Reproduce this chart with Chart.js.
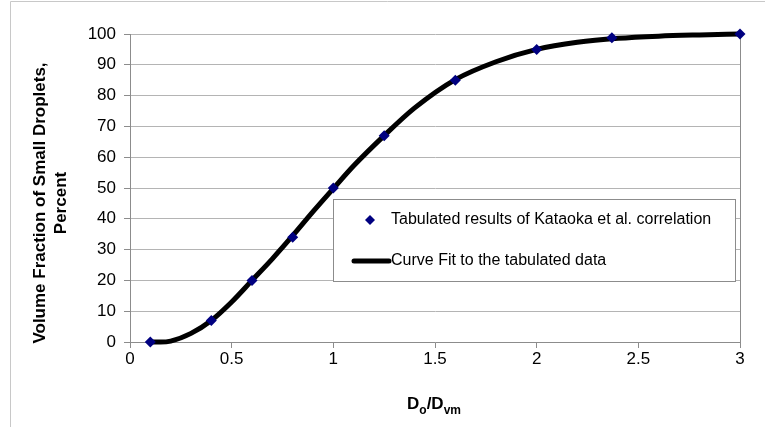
<!DOCTYPE html>
<html>
<head>
<meta charset="utf-8">
<script src="https://cdn.jsdelivr.net/npm/chart.js@4.4.0/dist/chart.umd.min.js"></script>
<style>
    html, body { margin: 0; padding: 0; background: #fff; }
    #wrap { position: relative; width: 765px; height: 427px; }
</style>
</head>
<body>
<div id="wrap"><canvas id="chart" width="765" height="427"></canvas></div>
<script>
// Tabulated points (Kataoka et al.)
const tabX = [0.1, 0.4, 0.6, 0.8, 1.0, 1.25, 1.6, 2.0, 2.37, 3.0];
const tabY = [0, 7, 20, 34, 50, 67, 85, 95, 98.8, 100];

// Curve fit
const fitX = [0.1, 0.15, 0.2, 0.3, 0.4, 0.5, 0.6, 0.7, 0.8, 0.9, 1.0, 1.1, 1.25, 1.4, 1.6, 1.8, 2.0, 2.2, 2.4, 2.6, 2.8, 3.0];
const fitY = [0, 0, 0.3, 2.8, 7, 13, 20, 27, 34.5, 42.3, 49.8, 57.2, 67, 76, 85.2, 91, 95, 97.3, 98.6, 99.3, 99.7, 100];

const xTicks = [0, 0.5, 1, 1.5, 2, 2.5, 3];
const yTicks = [0, 10, 20, 30, 40, 50, 60, 70, 80, 90, 100];

const legendLabels = ['Tabulated results of Kataoka et al. correlation', 'Curve Fit to the tabulated data'];

const FONT = '"Liberation Sans", Arial, sans-serif';
const NAVY = '#000080';

// frame, plot border, axis titles and legend box
const decorPlugin = {
    id: 'decor',
    beforeDraw(chart) {
        const ctx = chart.ctx;
        ctx.save();
        ctx.strokeStyle = '#c8c8c8';
        ctx.lineWidth = 1;
        ctx.beginPath();
        ctx.moveTo(10.5, 427);
        ctx.lineTo(10.5, 1.5);
        ctx.lineTo(765, 1.5);
        ctx.stroke();
        ctx.restore();
    },
    beforeDatasetsDraw(chart) {
        const ctx = chart.ctx;
        const a = chart.chartArea;
        // right border of plot area
        ctx.save();
        ctx.strokeStyle = '#8c8c8c';
        ctx.lineWidth = 1;
        ctx.beginPath();
        ctx.moveTo(Math.round(a.right) + 0.5, a.top);
        ctx.lineTo(Math.round(a.right) + 0.5, a.bottom + 6);
        ctx.stroke();
        ctx.restore();
    },
    afterDatasetsDraw(chart) {
        const ctx = chart.ctx;
        ctx.save();

        // y title
        ctx.fillStyle = '#000';
        ctx.font = 'bold 17px ' + FONT;
        ctx.textAlign = 'center';
        ctx.textBaseline = 'middle';
        ctx.save();
        ctx.translate(40, 203);
        ctx.rotate(-Math.PI / 2);
        ctx.fillText('Volume Fraction of Small Droplets,', 0, 0);
        ctx.fillText('Percent', 0, 21);
        ctx.restore();

        // x title D_o/D_vm
        const parts = [['D', false], ['o', true], ['/D', false], ['vm', true]];
        let total = 0;
        parts.forEach(p => {
            ctx.font = (p[1] ? 'bold 12px ' : 'bold 17px ') + FONT;
            total += ctx.measureText(p[0]).width;
        });
        let x = 434 - total / 2;
        ctx.textAlign = 'left';
        ctx.textBaseline = 'alphabetic';
        parts.forEach(p => {
            ctx.font = (p[1] ? 'bold 12px ' : 'bold 17px ') + FONT;
            ctx.fillText(p[0], x, p[1] ? 414 : 409);
            x += ctx.measureText(p[0]).width;
        });

        // legend box
        ctx.fillStyle = '#fff';
        ctx.fillRect(333, 199, 402, 82);
        ctx.strokeStyle = '#8c8c8c';
        ctx.lineWidth = 1;
        ctx.strokeRect(333.5, 199.5, 402, 82);

        ctx.fillStyle = NAVY;
        ctx.beginPath();
        ctx.moveTo(370, 215);
        ctx.lineTo(375, 220);
        ctx.lineTo(370, 225);
        ctx.lineTo(365, 220);
        ctx.closePath();
        ctx.fill();

        ctx.strokeStyle = '#000';
        ctx.lineWidth = 5;
        ctx.lineCap = 'round';
        ctx.beginPath();
        ctx.moveTo(354, 261);
        ctx.lineTo(389, 261);
        ctx.stroke();

        ctx.fillStyle = '#000';
        ctx.font = '16px ' + FONT;
        ctx.textBaseline = 'middle';
        ctx.fillText(legendLabels[0], 391, 220);
        ctx.fillText(legendLabels[1], 391, 261);
        ctx.restore();
    }
};

new Chart(document.getElementById('chart'), {
    type: 'scatter',
    data: {
        datasets: [
            {
                label: legendLabels[0],
                data: tabX.map((x, i) => ({ x: x, y: tabY[i] })),
                pointStyle: 'rectRot',
                pointRadius: 5.5,
                backgroundColor: NAVY,
                borderColor: NAVY,
                borderWidth: 0,
                showLine: false,
                clip: false
            },
            {
                label: legendLabels[1],
                data: fitX.map((x, i) => ({ x: x, y: fitY[i] })),
                showLine: true,
                borderColor: '#000',
                borderWidth: 5,
                pointRadius: 0,
                cubicInterpolationMode: 'monotone',
                clip: false
            }
        ]
    },
    options: {
        responsive: false,
        animation: false,
        events: [],
        layout: { padding: { top: 34, right: 25, bottom: 0, left: 0 } },
        plugins: {
            legend: { display: false },
            tooltip: { enabled: false }
        },
        scales: {
            x: {
                type: 'linear',
                min: 0,
                max: 3,
                afterFit: s => { s.height = 85; },
                afterBuildTicks: s => { s.ticks = xTicks.map(v => ({ value: v })); },
                grid: { drawOnChartArea: false, drawTicks: true, tickLength: 6, color: '#8c8c8c' },
                border: { color: '#8c8c8c', width: 1 },
                ticks: {
                    color: '#000',
                    font: { family: FONT, size: 17 },
                    padding: 1,
                    maxRotation: 0,
                    callback: v => String(v)
                }
            },
            y: {
                min: 0,
                max: 100,
                afterFit: s => { s.width = 130; },
                afterBuildTicks: s => { s.ticks = yTicks.map(v => ({ value: v })); },
                grid: { color: '#b4b4b4', tickLength: 6, tickColor: '#8c8c8c' },
                border: { color: '#8c8c8c', width: 1 },
                ticks: { color: '#000', font: { family: FONT, size: 17 }, padding: 8 }
            }
        }
    },
    plugins: [decorPlugin]
});
</script>
</body>
</html>
